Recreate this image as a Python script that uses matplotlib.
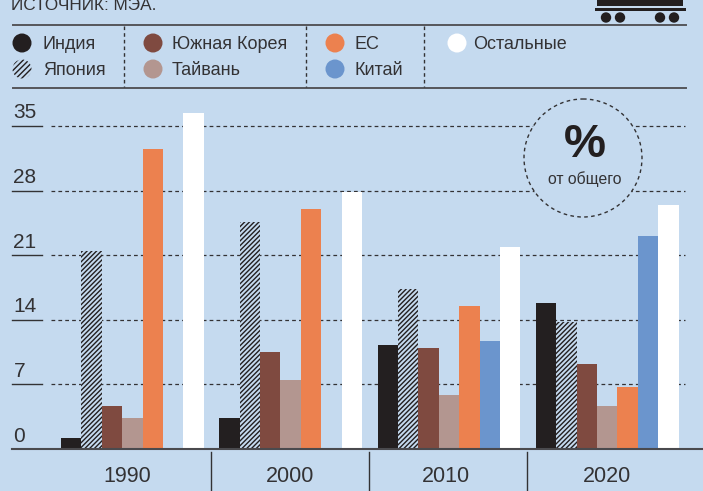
import matplotlib
matplotlib.use("Agg")
import matplotlib.pyplot as plt
from matplotlib.patches import Circle, Rectangle

years = ["1990", "2000", "2010", "2020"]
series_names = ["Индия", "Япония", "Южная Корея", "Тайвань", "ЕС", "Китай", "Остальные"]
india = [1.2, 3.4, 11.3, 15.8]
japan = [21.4, 24.6, 17.3, 13.8]
south_korea = [4.7, 10.5, 10.9, 9.2]
taiwan = [3.4, 7.5, 5.9, 4.7]
eu = [32.5, 26.0, 15.5, 6.7]
china = [0, 0, 11.7, 23.1]
others = [36.4, 27.8, 21.9, 26.4]
y_ticks = [0, 7, 14, 21, 28, 35]

BG = "#c5daef"
INK = "#333234"
colors = ["#231f20", BG, "#7f4a40", "#b39690", "#ec814f", "#6b95cd", "#ffffff"]
W, H = 703, 491

plt.rcParams["font.family"] = ["Liberation Sans"]
plt.rcParams["hatch.linewidth"] = 1.0

fig = plt.figure(figsize=(W / 100, H / 100), dpi=100, facecolor=BG)

deco = fig.add_axes([0, 0, 1, 1], zorder=3)
deco.set_xlim(0, W); deco.set_ylim(H, 0); deco.axis("off"); deco.patch.set_alpha(0)

unit = 158.3
px_y = 9.23
x0_px = 132.3
bar_w = 20.4 / unit
left_px, right_px, top_px, bottom_px = 0, W, 100, 449
ax = fig.add_axes([0, 1 - bottom_px / H, 1, (bottom_px - top_px) / H], zorder=1)
ax.set_xlim((left_px - x0_px) / unit, (right_px - x0_px) / unit)
ax.set_ylim(0, (bottom_px - top_px) / px_y)
ax.axis("off")

for t in y_ticks[1:]:
    ax.plot([(51 - x0_px) / unit, (685 - x0_px) / unit], [t, t], color=INK, lw=0.9,
            dashes=(3, 2.5), zorder=1)
    ax.plot([(12 - x0_px) / unit, (42 - x0_px) / unit], [t, t], color=INK, lw=1.0, zorder=1)

all_series = [india, japan, south_korea, taiwan, eu, china, others]
for j, vals in enumerate(all_series):
    xs = [i + (j - 3) * bar_w for i in range(len(years))]
    if j == 1:
        ax.bar(xs, vals, bar_w, facecolor=BG, edgecolor="#231f20", hatch="///////", lw=0, zorder=2)
    else:
        ax.bar(xs, vals, bar_w, color=colors[j], lw=0, zorder=2)

for t in y_ticks:
    y_px = bottom_px - t * px_y
    deco.text(13.5, y_px - 3.5, str(t), fontsize=15, color=INK, ha="left", va="bottom")

deco.plot([12, W], [449, 449], color="#4a4a4e", lw=1.5)
for xp in (211, 369, 527):
    deco.plot([xp, xp], [452, H], color=INK, lw=1.0)
label_x = [127, 290, 446, 607]
for xp, lab in zip(label_x, years):
    deco.text(xp, 476, lab, fontsize=15.5, color=INK, ha="center", va="center")

deco.text(11, 10, "ИСТОЧНИК: МЭА.", fontsize=12.4, color=INK, ha="left", va="baseline")
deco.add_patch(Rectangle((597, -2), 86, 7.5, color="#231f20", lw=0))
deco.add_patch(Rectangle((595, 7.5), 91, 3.5, color="#231f20", lw=0))
for xw in (606, 620, 660, 674):
    deco.add_patch(Circle((xw, 17.5), 5.2, color="#231f20", lw=0))

deco.plot([13, 686], [25, 25], color="#55565a", lw=1.4)
deco.plot([13, 686], [88, 88], color="#55565a", lw=1.4)
for xv in (123.5, 305.5, 423.5):
    deco.plot([xv, xv], [26, 87], color=INK, lw=1.0, dashes=(2.6, 2.2))

legend_x = [22, 22, 153, 153, 335, 335, 457]
legend_y = [43, 69, 43, 69, 43, 69, 43]
text_x = {22: 43, 153: 172, 335: 354, 457: 473}
for x, y, name, c, j in zip(legend_x, legend_y, series_names, colors, range(7)):
    if j == 1:
        deco.add_patch(Circle((x, y), 9.5, facecolor=BG, edgecolor="#231f20", hatch="//////", lw=0))
    else:
        deco.add_patch(Circle((x, y), 9.5, color=c, lw=0))
    deco.text(text_x[x], y + 1, name, fontsize=13, color=INK, ha="left", va="center")

deco.add_patch(Circle((583, 158), 59, facecolor=BG, edgecolor=INK, lw=1.0, linestyle=(0, (2.6, 2.4))))
deco.text(585, 145, "%", fontsize=34, fontweight="bold", color="#231f20", ha="center", va="center")
deco.text(585, 179, "от общего", fontsize=11.3, color=INK, ha="center", va="center")

fig.savefig("out.png", dpi=100, facecolor=BG)
